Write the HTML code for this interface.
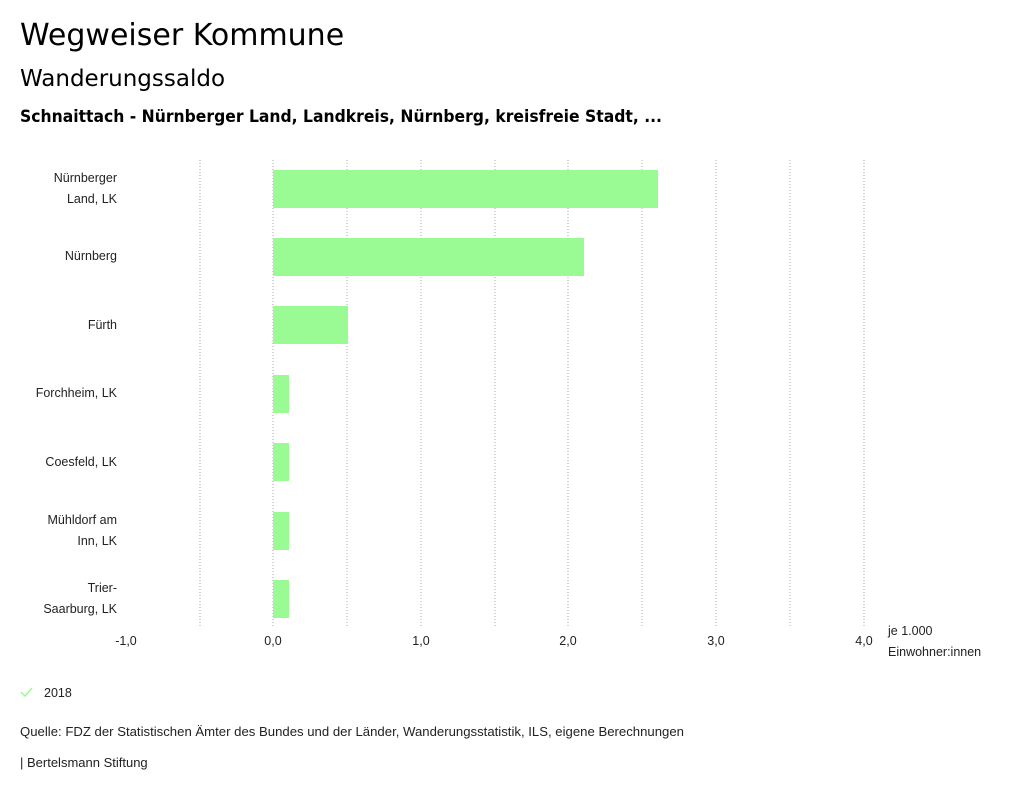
<!DOCTYPE html>
<html><head><meta charset="utf-8"><style>
body{margin:0;background:#fff;width:1024px;height:795px;overflow:hidden;font-family:"Liberation Sans",sans-serif;color:#000}
.t{position:absolute;white-space:nowrap}
</style></head><body>
<div class="t" style="left:20px;top:18px;font-family:'DejaVu Sans',sans-serif;font-size:30px">Wegweiser Kommune</div>
<div class="t" style="left:20px;top:66px;font-family:'DejaVu Sans',sans-serif;font-size:23px">Wanderungssaldo</div>
<svg width="1024" height="795" style="position:absolute;left:0;top:0" font-family="Liberation Sans, sans-serif" font-size="12.5">
<text x="20" y="122" font-family="DejaVu Sans, sans-serif" font-size="17" font-weight="bold" textLength="642" lengthAdjust="spacingAndGlyphs">Schnaittach - Nürnberger Land, Landkreis, Nürnberg, kreisfreie Stadt, ...</text>
<g stroke="#aaa" stroke-dasharray="1,2" stroke-width="1">
<line x1="200" y1="160" x2="200" y2="628"/><line x1="273" y1="160" x2="273" y2="628"/>
<line x1="347" y1="160" x2="347" y2="628"/><line x1="421" y1="160" x2="421" y2="628"/>
<line x1="495" y1="160" x2="495" y2="628"/><line x1="568" y1="160" x2="568" y2="628"/>
<line x1="642" y1="160" x2="642" y2="628"/><line x1="716" y1="160" x2="716" y2="628"/>
<line x1="790" y1="160" x2="790" y2="628"/><line x1="864" y1="160" x2="864" y2="628"/>
</g>
<g fill="#9afa93">
<rect x="273" y="170" width="385" height="38"/>
<rect x="273" y="238" width="311" height="38"/>
<rect x="273" y="306" width="75" height="38"/>
<rect x="273" y="375" width="16" height="38"/>
<rect x="273" y="443" width="16" height="38"/>
<rect x="273" y="512" width="16" height="38"/>
<rect x="273" y="580" width="16" height="38"/>
</g>
<g text-anchor="end" fill="#222">
<text x="117" y="182">Nürnberger</text><text x="117" y="203">Land, LK</text>
<text x="117" y="260">Nürnberg</text>
<text x="117" y="329">Fürth</text>
<text x="117" y="397">Forchheim, LK</text>
<text x="117" y="466">Coesfeld, LK</text>
<text x="117" y="524">Mühldorf am</text><text x="117" y="545">Inn, LK</text>
<text x="117" y="592">Trier-</text><text x="117" y="613">Saarburg, LK</text>
</g>
<g text-anchor="middle" fill="#222">
<text x="126" y="645">-1,0</text><text x="273" y="645">0,0</text><text x="421" y="645">1,0</text>
<text x="568" y="645">2,0</text><text x="716" y="645">3,0</text><text x="864" y="645">4,0</text>
</g>
<text x="888" y="635" fill="#222">je 1.000</text>
<text x="888" y="656" fill="#222">Einwohner:innen</text>
<polyline points="21,692 25,696 32,688" fill="none" stroke="#9afa93" stroke-width="1.5"/>
<text x="44" y="697" fill="#222">2018</text>
<text x="20" y="736" fill="#222" font-size="13" textLength="664" lengthAdjust="spacingAndGlyphs">Quelle: FDZ der Statistischen Ämter des Bundes und der Länder, Wanderungsstatistik, ILS, eigene Berechnungen</text>
<text x="20" y="767" fill="#222" font-size="13">| Bertelsmann Stiftung</text>
</svg>
</body></html>
